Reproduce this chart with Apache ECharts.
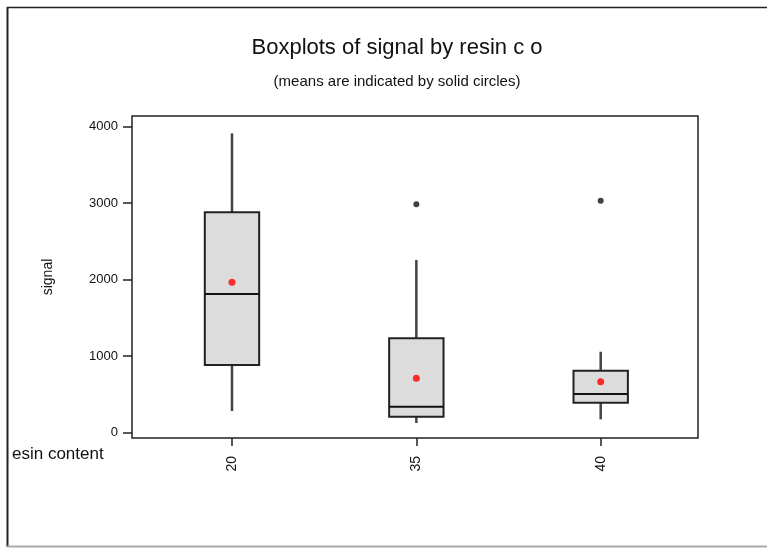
<!DOCTYPE html>
<html>
<head>
<meta charset="utf-8">
<script src="https://cdn.jsdelivr.net/npm/echarts@6/dist/echarts.min.js"></script>
<style>html,body{margin:0;padding:0;background:#fff;}#c{width:767px;height:548px;}</style>
</head>
<body>
<div id="c"></div>
<script>
const categories = ['20', '35', '40'];
const whiskerLow = [281, 124, 172];
const q1 = [882, 207, 390];
const medians = [1810, 337, 503];
const q3 = [2878, 1231, 808];
const whiskerHigh = [3911, 2255, 1056];
const means = [1963, 708, 664];
const outlierCategory = [1, 2];
const outlierValues = [2983, 3030];
const yTicks = [0, 1000, 2000, 3000, 4000];
const xTicks = [0, 1, 2];

const boxData = categories.map((c, i) => [i, whiskerLow[i], q1[i], medians[i], q3[i], whiskerHigh[i]]);
const meanData = categories.map((c, i) => [i, means[i]]);
const outlierData = outlierCategory.map((c, i) => [c, outlierValues[i]]);

const FONT = 'Liberation Sans, Arial, sans-serif';

const chart = echarts.init(document.getElementById('c'), null, {renderer: 'canvas'});
chart.setOption({
  backgroundColor: '#fff',
  animation: false,
  title: [
    {text: 'Boxplots of signal by resin c o', left: 392, top: 32, textAlign: 'center',
     textStyle: {fontFamily: FONT, fontSize: 22, fontWeight: 'normal', color: '#111'}},
    {text: '(means are indicated by solid circles)', left: 392, top: 69, textAlign: 'center',
     textStyle: {fontFamily: FONT, fontSize: 15, fontWeight: 'normal', color: '#111'}}
  ],
  grid: {left: 132, right: 69, top: 116, bottom: 110, show: true, borderColor: '#222', borderWidth: 1.5, backgroundColor: 'transparent'},
  xAxis: {
    type: 'value', min: -0.5424, max: 2.5278,
    axisLine: {show: false, onZero: false},
    splitLine: {show: false},
    axisTick: {show: true, length: 8, customValues: xTicks, lineStyle: {color: '#222', width: 1.5}},
    axisLabel: {customValues: xTicks, formatter: v => categories[Math.round(v)], rotate: 90, margin: 18,
      fontFamily: FONT, fontSize: 14, color: '#111'}
  },
  yAxis: {
    type: 'value', min: -72, max: 4137,
    name: 'signal', nameLocation: 'middle', nameGap: 77,
    nameTextStyle: {fontFamily: FONT, fontSize: 14, color: '#111'},
    axisLine: {show: false, onZero: false},
    splitLine: {show: false},
    axisTick: {show: true, length: 9, customValues: yTicks, lineStyle: {color: '#222', width: 1.5}},
    axisLabel: {customValues: yTicks, formatter: v => String(v), margin: 14, fontFamily: FONT, fontSize: 13, color: '#111'}
  },
  graphic: [
    {type: 'line', shape: {x1: 7.5, y1: 7, x2: 7.5, y2: 547}, style: {stroke: '#222', lineWidth: 2}, silent: true},
    {type: 'line', shape: {x1: 7, y1: 7.5, x2: 767, y2: 7.5}, style: {stroke: '#222', lineWidth: 1.5}, silent: true},
    {type: 'line', shape: {x1: 7, y1: 546.5, x2: 767, y2: 546.5}, style: {stroke: '#aaa', lineWidth: 2}, silent: true},
    {type: 'text', left: 12, top: 446, style: {text: 'esin content', fontFamily: FONT, fontSize: 17, fill: '#111'}, silent: true}
  ],
  series: [
    {
      type: 'custom',
      data: boxData,
      encode: {x: 0, y: [1, 2, 3, 4, 5]},
      renderItem: function (params, api) {
        const i = api.value(0);
        const pLow = api.coord([i, api.value(1)]);
        const pQ1 = api.coord([i, api.value(2)]);
        const pMed = api.coord([i, api.value(3)]);
        const pQ3 = api.coord([i, api.value(4)]);
        const pHigh = api.coord([i, api.value(5)]);
        const half = api.size([1, 0])[0] * 0.295 / 2;
        const cx = pMed[0];
        return {
          type: 'group',
          children: [
            {type: 'line', shape: {x1: cx, y1: pHigh[1], x2: cx, y2: pQ3[1]}, style: {stroke: '#444', lineWidth: 2.5}},
            {type: 'line', shape: {x1: cx, y1: pQ1[1], x2: cx, y2: pLow[1]}, style: {stroke: '#444', lineWidth: 2.5}},
            {type: 'rect', shape: {x: cx - half, y: pQ3[1], width: half * 2, height: pQ1[1] - pQ3[1]},
             style: {fill: '#dcdcdc', stroke: '#222', lineWidth: 2}},
            {type: 'line', shape: {x1: cx - half, y1: pMed[1], x2: cx + half, y2: pMed[1]}, style: {stroke: '#111', lineWidth: 2}}
          ]
        };
      },
      z: 2
    },
    {
      type: 'scatter', data: meanData, symbol: 'circle', symbolSize: 7,
      itemStyle: {color: '#ff0000'}, z: 5
    },
    {
      type: 'scatter', data: outlierData, symbol: 'circle', symbolSize: 6,
      itemStyle: {color: '#111'}, z: 5
    }
  ]
});
</script>
</body>
</html>
